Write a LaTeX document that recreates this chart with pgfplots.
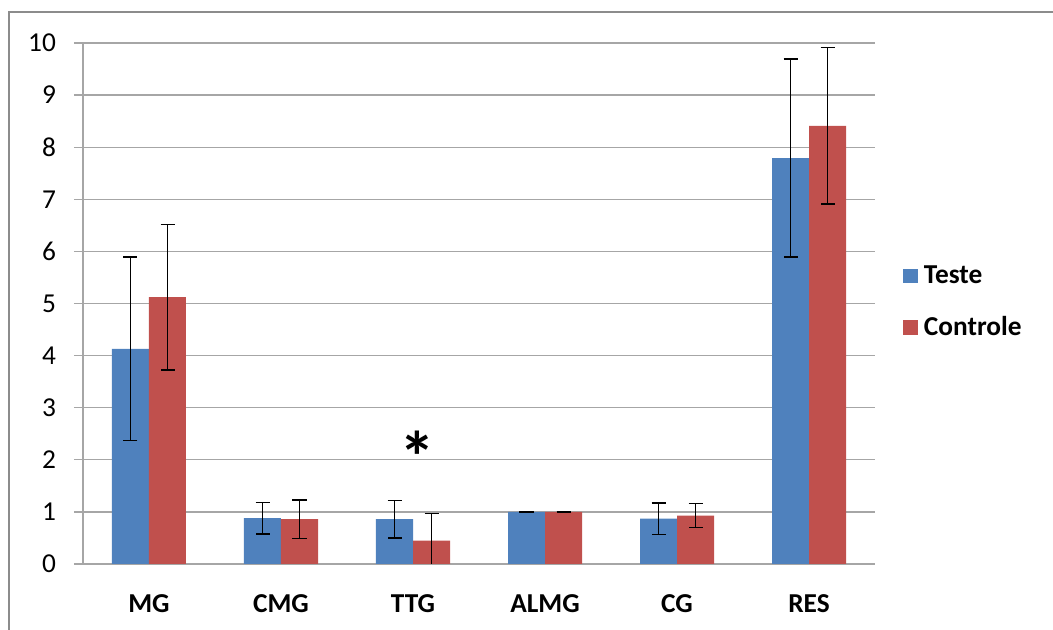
\documentclass[border=0pt]{standalone}
\usepackage{pgfplots}
\pgfplotsset{compat=1.18}
\usepackage{fontspec}
\setmainfont{Carlito}
\definecolor{teste}{HTML}{4F81BD}
\definecolor{controle}{HTML}{C0504D}
\definecolor{gridgray}{HTML}{A6A6A6}
\definecolor{framegray}{HTML}{8C8C8C}
\begin{document}
\begin{tikzpicture}
% page: 1053 x 630 px, 1 px = 0.75pt
\useasboundingbox (0pt,0pt) rectangle (789.75pt,472.5pt);
\draw[framegray, line width=1.5pt] (6.75pt,0pt) -- (6.75pt,463.5pt) -- (789.75pt,463.5pt);
\begin{axis}[
    at={(62.25pt,49.5pt)}, anchor=south west,
    scale only axis,
    width=594pt, height=390.75pt,
    ybar=0pt, bar width=27.75pt,
    xmin=-0.5, xmax=5.5,
    ymin=0, ymax=10,
    ytick={0,...,10},
    xtick={0,...,5},
    xticklabels={MG,CMG,TTG,ALMG,CG,RES},
    extra x ticks={-0.5,0.5,1.5,2.5,3.5,4.5,5.5},
    extra x tick labels={},
    extra x tick style={major tick length=7.5pt, tick align=outside,
        tick style={gridgray, line width=1pt}},
    x tick style={draw=none},
    y tick style={gridgray, line width=1pt},
    tick align=outside, major tick length=6.75pt,
    axis x line*=bottom, axis y line*=left,
    axis line style={gridgray, line width=1pt, -},
    ymajorgrids, grid style={gridgray, line width=1pt},
    /pgf/number format/assume math mode=true,
    yticklabel style={font=\fontsize{20.5}{24}\selectfont, anchor=east, xshift=-10pt},
    xticklabel style={font=\bfseries\fontsize{20.5}{24}\selectfont, anchor=base, yshift=-29.75pt},
    legend style={at={(1,0.503)}, anchor=west, xshift=18pt, draw=none, fill=none,
        font=\bfseries\fontsize{20.5}{24}\selectfont, row sep=19pt},
    legend cell align=left,
    legend image code/.code={\fill[#1] (0pt,-5.6pt) rectangle (11.25pt,5.6pt);
        \path (13.5pt,0pt);},
    error bars/y dir=both, error bars/y explicit,
    error bars/error bar style={black, line width=1.1pt},
    error bars/error mark options={black, rotate=90, mark size=5.25pt, line width=1.1pt},
]
\addplot[fill=teste, draw=none] coordinates {
    (0,4.13) +- (0,1.76)
    (1,0.88) +- (0,0.30)
    (2,0.86) +- (0,0.36)
    (3,1.00) +- (0,0.00)
    (4,0.87) +- (0,0.30)
    (5,7.79) +- (0,1.90)
};
\addplot[fill=controle, draw=none] coordinates {
    (0,5.12) +- (0,1.40)
    (1,0.86) +- (0,0.37)
    (2,0.45) +- (0,0.52)
    (3,1.00) +- (0,0.00)
    (4,0.93) +- (0,0.23)
    (5,8.41) +- (0,1.50)
};
\legend{Teste,Controle}
\node[font=\bfseries\fontsize{54}{58}\selectfont] at (axis cs:2.035,2.05) {*};
\end{axis}
\end{tikzpicture}
\end{document}
